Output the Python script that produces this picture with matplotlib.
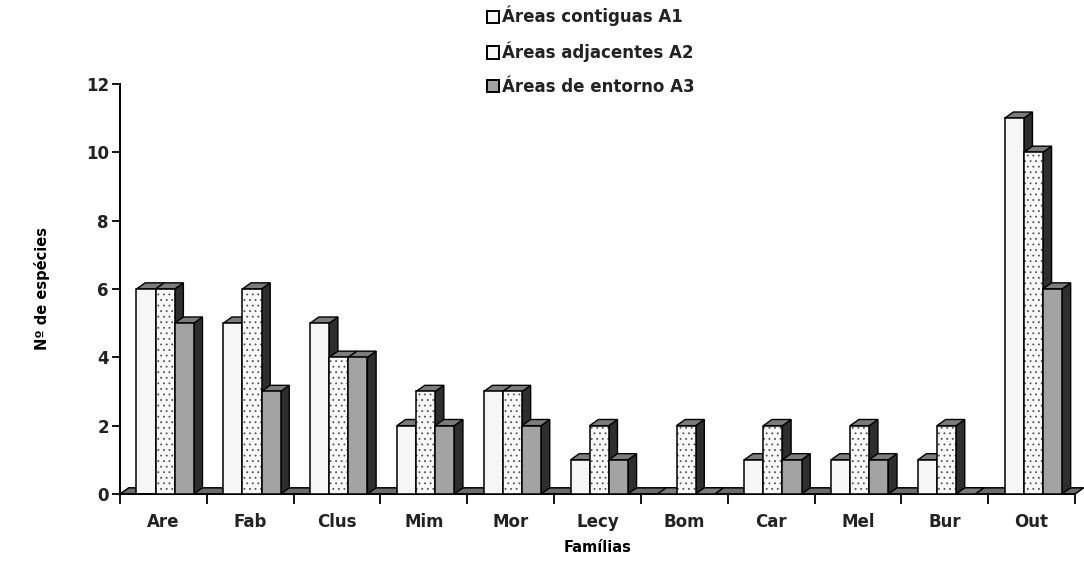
import matplotlib.pyplot as plt
from matplotlib.patches import Polygon, Patch
import numpy as np

plt.rcParams['font.family'] = ['DejaVu Sans']
plt.rcParams['hatch.linewidth'] = 0.6

familias = ['Are', 'Fab', 'Clus', 'Mim', 'Mor', 'Lecy', 'Bom', 'Car', 'Mel', 'Bur', 'Out']
a1 = [6, 5, 5, 2, 3, 1, 0, 1, 1, 1, 11]
a2 = [6, 6, 4, 3, 3, 2, 2, 2, 2, 2, 10]
a3 = [5, 3, 4, 2, 2, 1, 0, 1, 1, 0, 6]
series = ['Áreas contiguas A1', 'Áreas adjacentes A2', 'Áreas de entorno A3']

fronts = ['#f6f6f6', '#f8f8f8', '#a3a3a3']
hatches = [None, '...', None]
side_c = '#2e2e2e'
top_c = '#7c7c7c'

fig = plt.figure(figsize=(10.84, 5.63), dpi=100)
ax = fig.add_axes([0.1107, 0.1226, 0.881, 0.7282])

n = len(familias)
x = np.arange(n) + 0.5
w = 0.22
dx, dy = 0.10, 0.18

# chão do gráfico
floor = Polygon([(0, 0), (n, 0), (n + dx, dy), (dx, dy)], closed=True,
                facecolor='#6c6c6c', edgecolor='black', lw=1.1, zorder=1)
ax.add_patch(floor)

z = 2
for i in range(n):
    for k, vals in enumerate([a1, a2, a3]):
        x0 = x[i] + (k - 1) * w - w / 2 + 0.02
        v = vals[i]
        side = Polygon([(x0 + w, 0), (x0 + w + dx, dy), (x0 + w + dx, v + dy), (x0 + w, v)],
                       closed=True, facecolor=side_c, edgecolor='black', lw=1.0, zorder=z)
        top = Polygon([(x0, v), (x0 + dx, v + dy), (x0 + w + dx, v + dy), (x0 + w, v)],
                      closed=True, facecolor=top_c, edgecolor='black', lw=1.0, zorder=z)
        ax.add_patch(side)
        ax.add_patch(top)
        if v > 0:
            if hatches[k]:
                ax.bar(x0, v, width=w, align='edge', color=fronts[k], edgecolor='#555555',
                       hatch=hatches[k], lw=0, zorder=z + 0.4)
                ax.bar(x0, v, width=w, align='edge', fill=False, edgecolor='black',
                       lw=1.1, zorder=z + 0.5)
            else:
                ax.bar(x0, v, width=w, align='edge', color=fronts[k], edgecolor='black',
                       lw=1.1, zorder=z + 0.5)
        z += 1

ax.set_xlim(0, n)
ax.set_ylim(0, 12)
ax.set_yticks(range(0, 13, 2))
ax.set_xticks(np.arange(n + 1))
ax.set_xticklabels([])
ax.set_xticks(x, minor=True)
ax.set_xticklabels(familias, minor=True, fontsize=12, fontweight='bold', color='#222222')
ax.tick_params(axis='x', which='minor', length=0, pad=14)
ax.tick_params(axis='x', which='major', length=7, width=1.3, direction='out')
ax.tick_params(axis='y', length=6, width=1.3, labelsize=12, pad=2, labelcolor='#222222')
for t in ax.get_yticklabels():
    t.set_fontweight('bold')
ax.spines['top'].set_visible(False)
ax.spines['right'].set_visible(False)
ax.spines['left'].set_linewidth(1.4)
ax.spines['bottom'].set_linewidth(1.4)
for p in ax.patches:
    p.set_clip_on(False)

ax.set_xlabel('Famílias', fontsize=10.5, fontweight='bold', labelpad=6)
ax.set_ylabel('Nº de espécies', fontsize=10.5, fontweight='bold', labelpad=26)

handles = [Patch(facecolor=fronts[k], edgecolor='black', lw=1.4) for k in range(3)]
leg = fig.legend(handles, series, loc='upper left', bbox_to_anchor=(0.435, 1.016),
                 frameon=False, fontsize=12, handlelength=0.75, handleheight=0.75,
                 handletextpad=0.2, labelspacing=0.92)
for t in leg.get_texts():
    t.set_fontweight('bold')
    t.set_color('#222222')

plt.savefig('out.png', dpi=100)
